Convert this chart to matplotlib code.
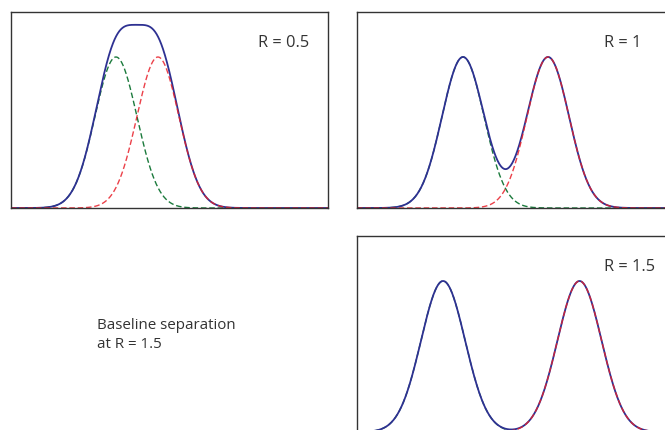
import matplotlib.pyplot as plt
import numpy as np

# peak parameters per panel (x in units of sigma, height normalised)
labels = ["R = 0.5", "R = 1", "R = 1.5"]
peak1_pos = [5.0, 5.05, 4.1]
peak2_pos = [7.0, 9.1, 10.6]
sigmas = [1.0, 1.0, 1.05]
heights = [1.0, 1.0, 1.0]
note = "Baseline separation\nat R = 1.5"

blue = "#2e3192"
green = "#1b7a3c"
red = "#e8202a"
frame = "#333333"

plt.rcParams['font.family'] = ['Open Sans', 'DejaVu Sans']

fig = plt.figure(figsize=(6.65, 4.3), dpi=100)

w = 317 / 665
h = 196 / 430
rects = [
    (11 / 665, 1 - 208 / 430, w, h),
    (357 / 665, 1 - 208 / 430, w, h),
    (357 / 665, 1 - 432 / 430, w, h),
]

x = np.linspace(0, 15.1, 800)

for i in range(3):
    ax = fig.add_axes(rects[i])
    s = sigmas[i]
    g = heights[i] * np.exp(-0.5 * ((x - peak1_pos[i]) / s) ** 2)
    r = heights[i] * np.exp(-0.5 * ((x - peak2_pos[i]) / s) ** 2)
    ax.plot(x, g, color=green, lw=1.0, dashes=(4, 2))
    ax.plot(x, g + r, color=blue, lw=1.3)
    ax.plot(x, r, color=red, lw=1.0, dashes=(4, 2), alpha=0.85)
    ax.set_xlim(0, 15.1)
    ax.set_ylim(0, 196 / 151)
    ax.set_xticks([])
    ax.set_yticks([])
    for sp in ax.spines.values():
        sp.set_color(frame)
        sp.set_linewidth(1.0)
    ax.text(247 / 317, 1 - 31 / 196, labels[i], transform=ax.transAxes,
            fontsize=11.8, color="#333333", va="center", ha="left")

fig.text(97 / 665, 1 - 335 / 430, note, fontsize=10.9, color="#333333",
         va="center", ha="left", linespacing=1.3)

fig.savefig("out.png", dpi=100)
